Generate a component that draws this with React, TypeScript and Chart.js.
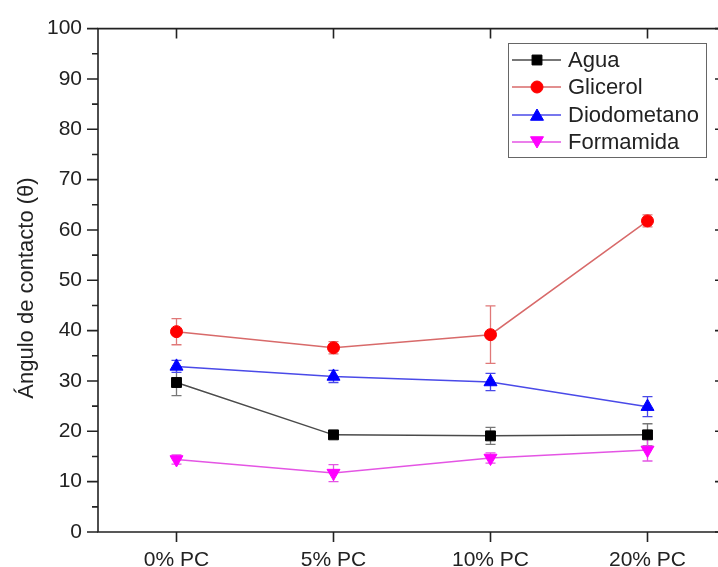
import React, { useEffect, useRef } from 'react';
import { Chart, registerables } from 'chart.js';

Chart.register(...registerables);

const categories = ['0% PC', '5% PC', '10% PC', '20% PC'];
const yTicks = [0, 10, 20, 30, 40, 50, 60, 70, 80, 90, 100];
const yTitle = 'Ángulo de contacto (θ)';

const seriesNames = ['Agua', 'Glicerol', 'Diodometano', 'Formamida'];
const agua = [29.7, 19.3, 19.1, 19.3];
const aguaErr = [2.6, 0.5, 1.7, 2.2];
const glicerol = [39.8, 36.6, 39.2, 61.8];
const glicerolErr = [2.6, 1.2, 5.7, 1.2];
const diodometano = [32.9, 30.9, 29.8, 24.9];
const diodometanoErr = [1.2, 1.2, 1.7, 2.0];
const formamida = [14.4, 11.7, 14.7, 16.3];
const formamidaErr = [0.9, 1.7, 1.0, 2.2];

const FONT = '"Liberation Sans", Arial, sans-serif';
const INK = '#222';

const styles = [
  { marker: '#000000', line: '#4a4a4a', err: '#777777', shape: 'rect', radius: 7, rotation: 0 },
  { marker: '#ff0000', line: '#d86a6a', err: '#e07878', shape: 'circle', radius: 6, rotation: 0 },
  { marker: '#0000ff', line: '#4a4ae8', err: '#4a4ae8', shape: 'triangle', radius: 7.5, rotation: 0 },
  { marker: '#ff00ff', line: '#e455e4', err: '#e455e4', shape: 'triangle', radius: 7.5, rotation: 180 },
];

const values = [agua, glicerol, diodometano, formamida];
const errors = [aguaErr, glicerolErr, diodometanoErr, formamidaErr];

function drawMarker(ctx: CanvasRenderingContext2D, shape: string, rotation: number, x: number, y: number, r: number, color: string) {
  ctx.save();
  ctx.fillStyle = color;
  ctx.strokeStyle = color;
  ctx.lineWidth = 1;
  ctx.beginPath();
  if (shape === 'rect') {
    const s = r * Math.SQRT1_2;
    ctx.rect(x - s, y - s, 2 * s, 2 * s);
  } else if (shape === 'circle') {
    ctx.arc(x, y, r, 0, Math.PI * 2);
  } else {
    const rot = (rotation * Math.PI) / 180;
    for (let k = 0; k < 3; k++) {
      const a = rot - Math.PI / 2 + (k * 2 * Math.PI) / 3;
      const px = x + Math.cos(a) * r;
      const py = y + Math.sin(a) * r;
      if (k === 0) ctx.moveTo(px, py);
      else ctx.lineTo(px, py);
    }
    ctx.closePath();
  }
  ctx.fill();
  ctx.stroke();
  ctx.restore();
}

const errorBarPlugin = {
  id: 'errorBars',
  beforeDatasetsDraw(chart: any) {
    const ctx = chart.ctx;
    const ys = chart.scales.y;
    chart.data.datasets.forEach((ds: any, di: number) => {
      const meta = chart.getDatasetMeta(di);
      ctx.save();
      ctx.strokeStyle = styles[di].err;
      ctx.lineWidth = 1.3;
      meta.data.forEach((pt: any, i: number) => {
        const v = values[di][i];
        const e = errors[di][i];
        const x = pt.x;
        const y1 = ys.getPixelForValue(v + e);
        const y2 = ys.getPixelForValue(v - e);
        ctx.beginPath();
        ctx.moveTo(x, y1);
        ctx.lineTo(x, y2);
        ctx.moveTo(x - 5, y1);
        ctx.lineTo(x + 5, y1);
        ctx.moveTo(x - 5, y2);
        ctx.lineTo(x + 5, y2);
        ctx.stroke();
      });
      ctx.restore();
    });
  },
};

const framePlugin = {
  id: 'frame',
  afterDraw(chart: any) {
    const ctx = chart.ctx;
    const { left, right, top, bottom } = chart.chartArea;
    const xs = chart.scales.x;
    const ys = chart.scales.y;
    ctx.save();
    ctx.strokeStyle = INK;
    ctx.lineWidth = 1.6;
    ctx.beginPath();
    ctx.rect(left, top, right - left, bottom - top);
    ctx.stroke();
    ctx.beginPath();
    yTicks.forEach((t) => {
      const y = ys.getPixelForValue(t);
      ctx.moveTo(left - 11, y);
      ctx.lineTo(left, y);
      ctx.moveTo(right, y);
      ctx.lineTo(right - 11, y);
      if (t < 100) {
        const ym = ys.getPixelForValue(t + 5);
        ctx.moveTo(left - 6, ym);
        ctx.lineTo(left, ym);
        ctx.moveTo(right, ym);
        ctx.lineTo(right - 6, ym);
      }
    });
    categories.forEach((_, i) => {
      const x = xs.getPixelForValue(i);
      ctx.moveTo(x, bottom);
      ctx.lineTo(x, bottom + 10);
      ctx.moveTo(x, top);
      ctx.lineTo(x, top + 10);
    });
    ctx.stroke();

    // y-axis title
    ctx.save();
    ctx.translate(27, 288);
    ctx.rotate(-Math.PI / 2);
    ctx.fillStyle = INK;
    ctx.font = `22px ${FONT}`;
    ctx.textAlign = 'center';
    ctx.textBaseline = 'middle';
    ctx.fillText(yTitle, 0, 0);
    ctx.restore();

    // legend
    const bx = 508, by = 43, bw = 198, bh = 114;
    ctx.fillStyle = '#ffffff';
    ctx.fillRect(bx, by, bw, bh);
    ctx.strokeStyle = '#666';
    ctx.lineWidth = 1;
    ctx.strokeRect(bx + 0.5, by + 0.5, bw, bh);
    const rowY = [60, 87, 115, 142];
    seriesNames.forEach((name, i) => {
      const y = rowY[i];
      const st = styles[i];
      ctx.strokeStyle = st.line;
      ctx.lineWidth = 1.3;
      ctx.beginPath();
      ctx.moveTo(512, y);
      ctx.lineTo(561, y);
      ctx.stroke();
      drawMarker(ctx, st.shape, st.rotation, 537, y + (st.shape === 'triangle' ? (st.rotation ? -1.5 : 1.5) : 0), st.radius, st.marker);
      ctx.fillStyle = INK;
      ctx.font = `22px ${FONT}`;
      ctx.textAlign = 'left';
      ctx.textBaseline = 'middle';
      ctx.fillText(name, 568, y + 1);
    });
    ctx.restore();
  },
};

export default function App() {
  const canvasRef = useRef<HTMLCanvasElement | null>(null);

  useEffect(() => {
    const canvas = canvasRef.current;
    if (!canvas) return;
    const datasets = seriesNames.map((name, di) => ({
      label: name,
      data: values[di].map((v, i) => ({ x: i, y: v })),
      borderColor: styles[di].line,
      borderWidth: 1.5,
      backgroundColor: styles[di].marker,
      pointBackgroundColor: styles[di].marker,
      pointBorderColor: styles[di].marker,
      pointBorderWidth: 1,
      pointStyle: styles[di].shape,
      pointRotation: styles[di].rotation,
      pointRadius: styles[di].radius,
      pointHoverRadius: styles[di].radius,
      tension: 0,
      fill: false,
    }));
    const chart = new Chart(canvas, {
      type: 'line',
      data: { datasets },
      options: {
        responsive: false,
        animation: false,
        devicePixelRatio: 1,
        layout: { padding: { left: 0, right: 14, top: 25, bottom: 0 } },
        plugins: { legend: { display: false }, tooltip: { enabled: false }, title: { display: false } },
        scales: {
          x: {
            type: 'linear',
            min: -0.5,
            max: 3.5,
            afterBuildTicks: (s: any) => {
              s.ticks = categories.map((_, i) => ({ value: i }));
            },
            afterFit: (s: any) => {
              s.height = 35;
            },
            ticks: {
              callback: (v: any) => categories[v] ?? '',
              font: { size: 21, family: FONT },
              color: INK,
              padding: 16,
              maxRotation: 0,
              autoSkip: false,
            },
            grid: { display: false, drawTicks: false },
            border: { display: false },
          },
          y: {
            type: 'linear',
            min: 0,
            max: 100,
            afterBuildTicks: (s: any) => {
              s.ticks = yTicks.map((v) => ({ value: v }));
            },
            afterFit: (s: any) => {
              s.width = 98;
            },
            ticks: {
              font: { size: 21, family: FONT },
              color: INK,
              padding: 16,
            },
            grid: { display: false, drawTicks: false },
            border: { display: false },
          },
        },
      },
      plugins: [errorBarPlugin, framePlugin],
    } as any);
    return () => chart.destroy();
  }, []);

  return (
    <div style={{ position: 'fixed', left: 0, top: 0, width: 718, height: 567, overflow: 'hidden', background: '#fff' }}>
      <canvas ref={canvasRef} width={740} height={567} style={{ display: 'block' }} />
    </div>
  );
}
